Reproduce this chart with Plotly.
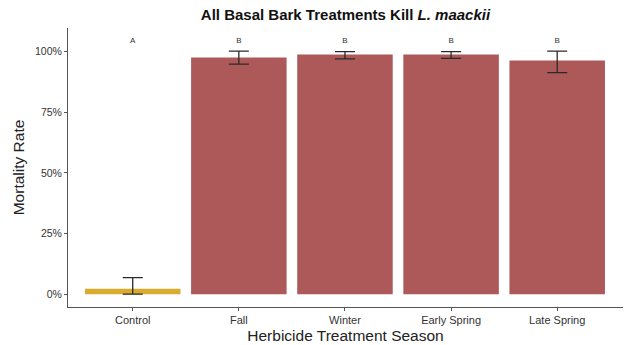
import plotly.graph_objects as go

seasons = ["Control", "Fall", "Winter", "Early Spring", "Late Spring"]
mortality = [2.2, 97.5, 98.8, 98.8, 96.3]
err_plus = [4.6, 2.7, 1.2, 1.2, 3.9]
err_minus = [2.2, 2.7, 1.8, 1.6, 5.0]
letters = ["A", "B", "B", "B", "B"]
letter_y = [104.2, 104.2, 104.2, 104.2, 104.2]
bar_colors = ["#d9ab2e", "#ad5859", "#ad5859", "#ad5859", "#ad5859"]

fig = go.Figure()
fig.add_trace(go.Bar(
    x=seasons, y=mortality, width=0.9,
    marker=dict(color=bar_colors, line=dict(width=0)),
    error_y=dict(type="data", symmetric=False, array=err_plus, arrayminus=err_minus,
                 color="#2a2a2a", thickness=1.3, width=10),
    showlegend=False,
))
fig.add_trace(go.Scatter(
    x=seasons, y=letter_y, mode="text", text=letters,
    textfont=dict(family="Liberation Sans, Arial", size=8, color="#333333"),
    showlegend=False,
))

fig.update_layout(
    width=627, height=345,
    margin=dict(l=68, r=4, t=28, b=38),
    paper_bgcolor="white", plot_bgcolor="white",
    font=dict(family="Liberation Sans, Arial", color="#333333"),
    title=dict(text="<b>All Basal Bark Treatments Kill <i>L. maackii</i></b>",
               x=0.551, xanchor="center", y=0.958, yanchor="middle",
               font=dict(size=15, color="#111111")),
    bargap=0.1,
    xaxis=dict(
        range=[-0.61, 4.62], showgrid=False, zeroline=False,
        showline=True, linecolor="#555555", linewidth=1,
        ticks="outside", ticklen=3, tickcolor="#555555",
        tickfont=dict(size=11, color="#333333"),
        title=dict(text="Herbicide Treatment Season", font=dict(size=15.5, color="#222222"), standoff=4),
    ),
    yaxis=dict(
        range=[-5.3, 109.7], showgrid=False, zeroline=False,
        showline=True, linecolor="#555555", linewidth=1,
        ticks="outside", ticklen=3, tickcolor="#555555",
        tickvals=[0, 25, 50, 75, 100], ticktext=["0%", "25%", "50%", "75%", "100%"],
        tickfont=dict(size=10.5, color="#333333"),
        title=dict(text="Mortality Rate", font=dict(size=15.5, color="#222222"), standoff=6),
    ),
)

fig.write_html("out.html")
